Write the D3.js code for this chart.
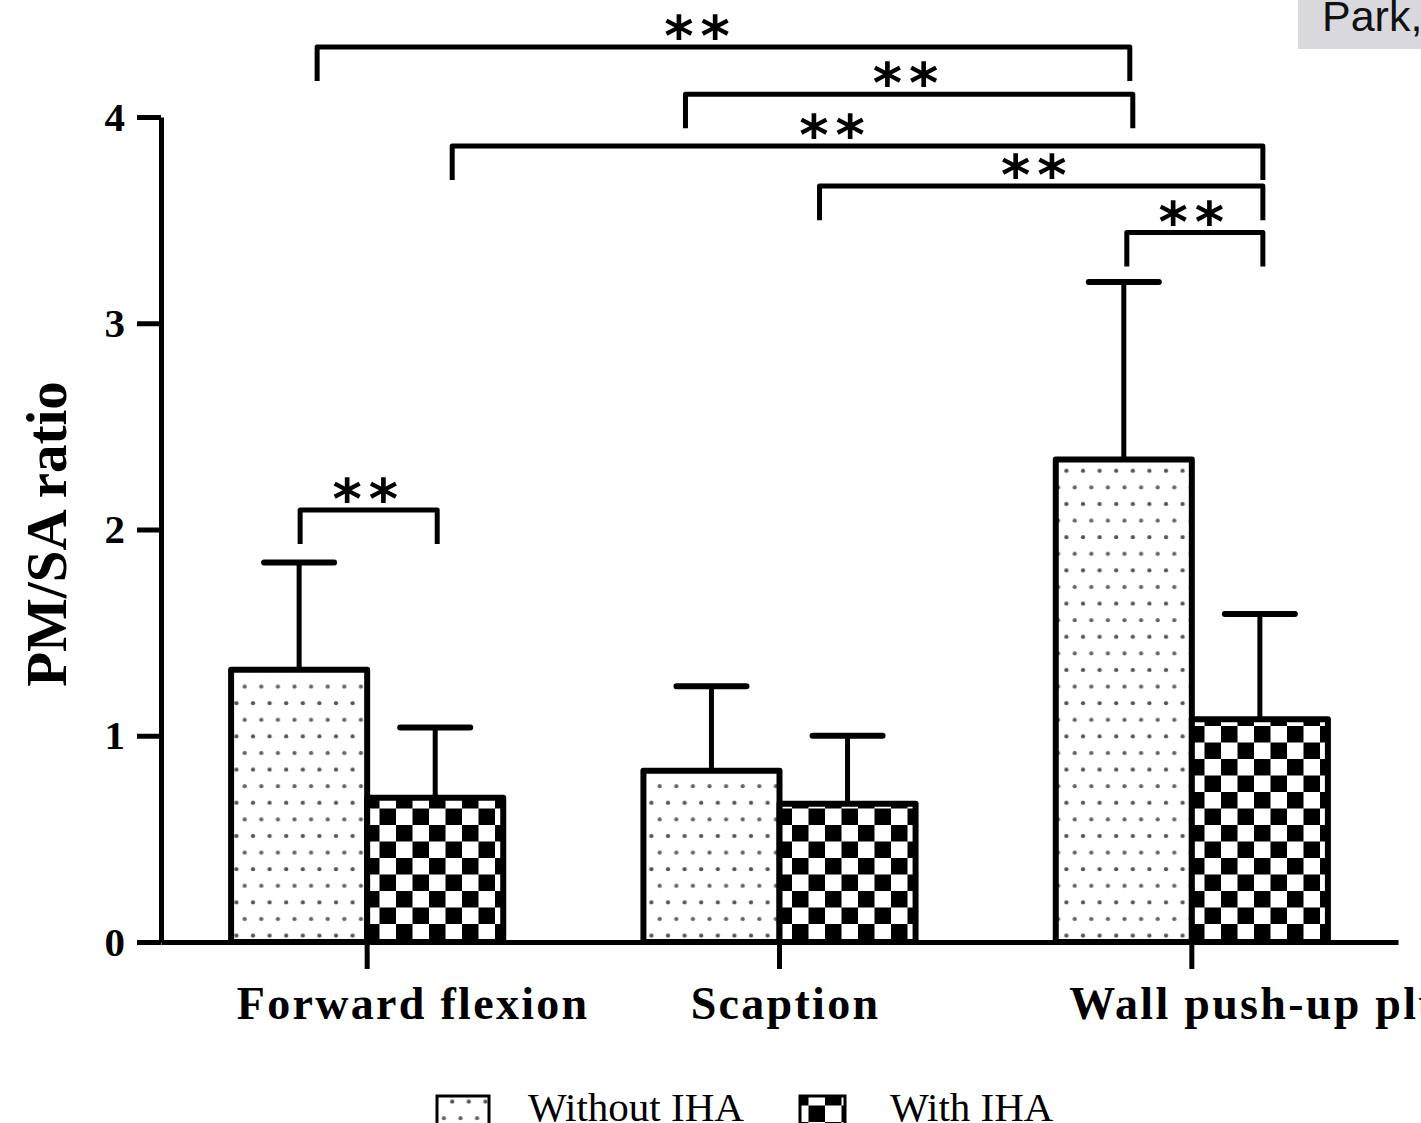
<!DOCTYPE html>
<html>
<head>
<meta charset="utf-8">
<script src="https://cdn.jsdelivr.net/npm/d3@7"></script>
<style>
  body { margin: 0; background: #fff; }
  svg { display: block; }
</style>
</head>
<body>
<script>
// categories and groups
var categories = ["Forward flexion", "Scaption", "Wall push-up plus"];
var series = ["Without IHA", "With IHA"];
// PM/SA ratio, mean and SD
var withoutMean = [1.32, 0.83, 2.34];
var withoutSD = [0.52, 0.41, 0.86];
var withMean = [0.70, 0.67, 1.08];
var withSD = [0.34, 0.33, 0.51];
var yTicks = [0, 1, 2, 3, 4];
// significance brackets: [category, series] -> [category, series], level in data units
var brackets = [
  {a: [0, 0], b: [2, 0], level: 4.34},
  {a: [1, 0], b: [2, 0], level: 4.11},
  {a: [0, 1], b: [2, 1], level: 3.86},
  {a: [1, 1], b: [2, 1], level: 3.665},
  {a: [2, 0], b: [2, 1], level: 3.44},
  {a: [0, 0], b: [0, 1], level: 2.095}
];
var sigLabel = "**";

// layout stuff
var width = 1421, height = 1123;
var serif = "'Liberation Serif', 'Times New Roman', serif";
var bracketNudge = [[18, 6], [-26, 9], [17, 3], [-28, 3], [3, 3], [1, 2]];
var starNudge = [-23, 0, -22, -4, 0, 0];
var labelDx = [46, 6, 76];

var svg = d3.select("body").append("svg")
  .attr("width", width)
  .attr("height", height);

var defs = svg.append("defs");
// dotted fill
var dots = defs.append("pattern")
  .attr("id", "dots")
  .attr("patternUnits", "userSpaceOnUse")
  .attr("width", 16.6).attr("height", 33.2);
dots.append("rect").attr("width", 16.6).attr("height", 33.2).attr("fill", "#fff");
dots.append("circle").attr("cx", 4).attr("cy", 6).attr("r", 2.1).attr("fill", "#555");
dots.append("circle").attr("cx", 12.3).attr("cy", 22.6).attr("r", 2.1).attr("fill", "#666");
// checker fill
var checker = defs.append("pattern")
  .attr("id", "checker")
  .attr("patternUnits", "userSpaceOnUse")
  .attr("width", 33).attr("height", 33);
checker.append("rect").attr("width", 33).attr("height", 33).attr("fill", "#fff");
checker.append("rect").attr("x", 0).attr("y", 0).attr("width", 16.5).attr("height", 16.5).attr("fill", "#000");
checker.append("rect").attr("x", 16.5).attr("y", 16.5).attr("width", 16.5).attr("height", 16.5).attr("fill", "#000");

var fills = ["url(#dots)", "url(#checker)"];

var y = d3.scaleLinear().domain([0, 4]).range([942, 117]);
var x0 = d3.scaleBand().domain(categories).range([161, 1398]).padding(0);
var barW = x0.bandwidth() * 0.33;
var x1 = d3.scaleBand().domain(series)
  .range([x0.bandwidth() / 2 - barW, x0.bandwidth() / 2 + barW]);

var rows = [];
categories.forEach(function(c, i) {
  rows.push({cat: c, s: 0, mean: withoutMean[i], sd: withoutSD[i]});
  rows.push({cat: c, s: 1, mean: withMean[i], sd: withSD[i]});
});

function barCenter(ci, si) {
  return x0(categories[ci]) + x1(series[si]) + x1.bandwidth() / 2;
}

// error bars (drawn first so the bar outline covers the stem foot)
var err = svg.append("g").attr("stroke", "#000").attr("stroke-width", 5).attr("stroke-linecap", "round");
rows.forEach(function(d) {
  var cx = x0(d.cat) + x1(series[d.s]) + x1.bandwidth() / 2;
  err.append("line")
    .attr("x1", cx).attr("x2", cx)
    .attr("y1", y(d.mean)).attr("y2", y(d.mean + d.sd));
  err.append("line")
    .attr("x1", cx - 35).attr("x2", cx + 35)
    .attr("y1", y(d.mean + d.sd)).attr("y2", y(d.mean + d.sd))
    .attr("stroke-width", 6);
});

// bars
svg.append("g").selectAll("rect")
  .data(rows)
  .enter()
  .append("rect")
  .attr("x", function(d) { return x0(d.cat) + x1(series[d.s]); })
  .attr("y", function(d) { return y(d.mean); })
  .attr("width", x1.bandwidth())
  .attr("height", function(d) { return y(0) - y(d.mean); })
  .attr("fill", function(d) { return fills[d.s]; })
  .attr("stroke", "#000")
  .attr("stroke-width", 6)
  .attr("stroke-linejoin", "round");

// y axis
var yAxis = svg.append("g")
  .attr("transform", "translate(161,0)")
  .call(d3.axisLeft(y).tickValues(yTicks).tickFormat(d3.format("d")).tickSize(24).tickSizeOuter(0).tickPadding(12));
yAxis.select(".domain").attr("stroke-width", 5);
yAxis.selectAll(".tick line").attr("stroke-width", 5);
yAxis.selectAll(".tick text")
  .attr("font-family", serif)
  .attr("font-weight", "bold")
  .attr("font-size", 41)
  .attr("fill", "#000");

// x axis
var xAxis = svg.append("g")
  .attr("transform", "translate(0,942)")
  .call(d3.axisBottom(x0).tickSize(27).tickSizeOuter(0).tickPadding(0));
xAxis.select(".domain").attr("stroke-width", 5);
xAxis.selectAll(".tick line").attr("stroke-width", 5);
xAxis.selectAll(".tick text")
  .attr("y", 77).attr("dy", 0)
  .attr("dx", function(d, i) { return labelDx[i]; })
  .attr("font-family", serif)
  .attr("font-weight", "bold")
  .attr("font-size", 46)
  .attr("letter-spacing", 2.3)
  .attr("fill", "#000");

// y title
svg.append("text")
  .attr("transform", "translate(66,534) rotate(-90)")
  .attr("text-anchor", "middle")
  .attr("font-family", serif)
  .attr("font-weight", "bold")
  .attr("font-size", 57)
  .text("PM/SA ratio");

// significance brackets
var drop = y(0) - y(0.165);
var br = svg.append("g");
brackets.forEach(function(b, i) {
  var xa = barCenter(b.a[0], b.a[1]) + bracketNudge[i][0];
  var xb = barCenter(b.b[0], b.b[1]) + bracketNudge[i][1];
  var yl = y(b.level);
  br.append("path")
    .attr("d", "M" + xa + "," + (yl + drop) + "V" + yl + "H" + xb + "V" + (yl + drop))
    .attr("fill", "none")
    .attr("stroke", "#000")
    .attr("stroke-width", 5)
    .attr("stroke-linejoin", "round");
  br.append("text")
    .attr("x", (xa + xb) / 2 + starNudge[i])
    .attr("y", yl + 8)
    .attr("text-anchor", "middle")
    .attr("font-family", "'DejaVu Sans', sans-serif")
    .attr("font-weight", "bold")
    .attr("font-size", 56)
    .attr("letter-spacing", 7)
    .text(sigLabel);
});

// legend
var legendX = [437, 800];
var legendText = [528, 890];
var lg = svg.append("g");
series.forEach(function(s, i) {
  lg.append("rect")
    .attr("x", legendX[i]).attr("y", 1096)
    .attr("width", i === 0 ? 52 : 45).attr("height", 34)
    .attr("fill", fills[i])
    .attr("stroke", "#000")
    .attr("stroke-width", 3);
  lg.append("text")
    .attr("x", legendText[i]).attr("y", 1121)
    .attr("font-family", serif)
    .attr("font-size", 41)
    .text(s);
});

// source tag, top right
svg.append("rect")
  .attr("x", 1298).attr("y", -2)
  .attr("width", 130).attr("height", 51)
  .attr("fill", "#d9d9dd");
svg.append("text")
  .attr("x", 1322).attr("y", 31)
  .attr("font-family", "'Liberation Sans', Arial, sans-serif")
  .attr("font-size", 43)
  .attr("fill", "#111")
  .text("Park,");
</script>
</body>
</html>
